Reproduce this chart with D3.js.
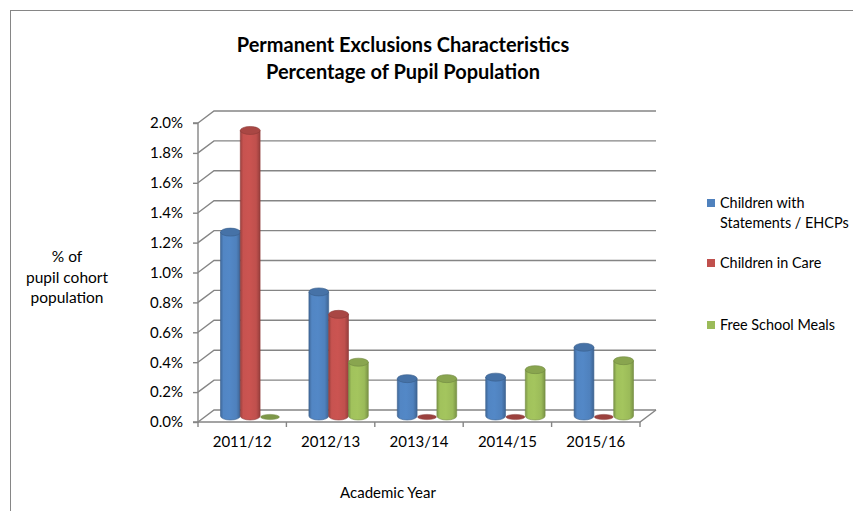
<!DOCTYPE html>
<html>
<head>
<meta charset="utf-8">
<script src="https://cdn.jsdelivr.net/npm/d3@7"></script>
<style>
  body { margin: 0; background: #fff; }
  text { font-family: Lato, "Open Sans", sans-serif; fill: #000; }
</style>
</head>
<body>
<div id="chart"></div>
<script>
// Data
var years = ["2011/12", "2012/13", "2013/14", "2014/15", "2015/16"];
var seriesNames = ["Children with Statements / EHCPs", "Children in Care", "Free School Meals"];
var statements = [0.0123, 0.0083, 0.0025, 0.0026, 0.0046];
var inCare = [0.0191, 0.0068, 0.0000, 0.0000, 0.0000];
var schoolMeals = [0.0000, 0.0036, 0.0025, 0.0031, 0.0037];
var yTicks = [0, 0.002, 0.004, 0.006, 0.008, 0.010, 0.012, 0.014, 0.016, 0.018, 0.020];

var colors = ["#4f81bd", "#c0504d", "#9bbb59"];
var allSeries = [statements, inCare, schoolMeals];

var width = 853;
var height = 511;

//depth of the 3d box, and bar radius
var depthX = 16;
var depthY = -12;
var ry = 4;

var svg = d3
  .select("#chart")
  .append("svg")
  .attr("width", width)
  .attr("height", height);

//chart area border (only top/left visible in the shot)
svg.append("rect")
  .attr("x", 10.5)
  .attr("y", 10.5)
  .attr("width", 900)
  .attr("height", 600)
  .attr("fill", "none")
  .attr("stroke", "#868686")
  .attr("stroke-width", 1);

//gradients for the cylinders
var defs = svg.append("defs");
colors.forEach(function(c, i) {
  var base = d3.color(c);
  var g = defs.append("linearGradient")
    .attr("id", "cyl" + i)
    .attr("x1", "0%").attr("x2", "100%")
    .attr("y1", "0%").attr("y2", "0%");
  g.append("stop").attr("offset", "0%").attr("stop-color", base.darker(0.6));
  g.append("stop").attr("offset", "15%").attr("stop-color", base.brighter(0.1));
  g.append("stop").attr("offset", "45%").attr("stop-color", base.brighter(0.15));
  g.append("stop").attr("offset", "80%").attr("stop-color", base);
  g.append("stop").attr("offset", "100%").attr("stop-color", base.darker(0.7));
});

//scales
var xScale = d3
  .scaleBand()
  .domain(years)
  .range([198, 640]);

var xInner = d3
  .scaleBand()
  .domain(d3.range(3))
  .range([14.5, xScale.bandwidth() - 14.5]);

var yScale = d3
  .scaleLinear()
  .domain([0, 0.02])
  .range([422, 123]);

var x0 = xScale.range()[0];
var x1 = xScale.range()[1];
var gridColor = "#858585";

//back wall gridlines with the side wall diagonals
var grid = svg.append("g").attr("class", "grid");
yTicks.forEach(function(t) {
  var yF = yScale(t);
  grid.append("path")
    .attr("d", "M" + x0 + "," + yF + "L" + (x0 + depthX) + "," + (yF + depthY) +
      "L" + (x1 + depthX) + "," + (yF + depthY))
    .attr("fill", "none")
    .attr("stroke", gridColor)
    .attr("stroke-width", 1.4);
});

//floor
grid.append("path")
  .attr("d", "M" + x0 + "," + yScale(0) + "L" + x1 + "," + yScale(0) +
    "L" + (x1 + depthX) + "," + (yScale(0) + depthY))
  .attr("fill", "none")
  .attr("stroke", gridColor)
  .attr("stroke-width", 1.4);

//front y axis with tick marks
var yAxis = d3.axisLeft(yScale)
  .tickValues(yTicks)
  .tickSize(5)
  .tickFormat(d3.format(".1%"));

svg.append("g")
  .attr("class", "yAxis")
  .attr("transform", "translate(" + x0 + ",0)")
  .call(yAxis)
  .call(function(g) {
    g.selectAll("path,line").attr("stroke", gridColor).attr("stroke-width", 1.4);
    g.select(".domain").attr("d", "M-5," + yScale(0.02) + "H0V" + yScale(0) + "H-5");
    g.selectAll("text")
      .attr("x", -15)
      .attr("font-size", 15)
      .attr("font-family", "Lato, sans-serif");
  });

//x axis along front floor edge
var xAxis = d3.axisBottom(xScale).tickSize(0).tickPadding(14);
svg.append("g")
  .attr("class", "xAxis")
  .attr("transform", "translate(0," + yScale(0) + ")")
  .call(xAxis)
  .call(function(g) {
    g.select(".domain").remove();
    g.selectAll("text")
      .attr("font-size", 15)
      .attr("font-family", "Lato, sans-serif");
  });

//category separator ticks
svg.append("g")
  .selectAll("line")
  .data(years.concat(["end"]))
  .enter()
  .append("line")
  .attr("x1", function(d, i) { return x0 + i * xScale.step(); })
  .attr("x2", function(d, i) { return x0 + i * xScale.step(); })
  .attr("y1", yScale(0))
  .attr("y2", yScale(0) + 5)
  .attr("stroke", gridColor)
  .attr("stroke-width", 1.4);

//cylinder bars, drawn at half depth
var bars = svg.append("g").attr("class", "bars");
years.forEach(function(yr, yi) {
  allSeries.forEach(function(vals, si) {
    var v = vals[yi];
    var rx = xInner.bandwidth() / 2;
    var cx = xScale(yr) + xInner(si) + rx + depthX / 2;
    var yb = yScale(0) + depthY / 2;
    var yt = yScale(v) + depthY / 2;
    var base = d3.color(colors[si]);
    if (yb - yt > 0.5) {
      bars.append("path")
        .attr("d", "M" + (cx - rx) + "," + yt + "L" + (cx - rx) + "," + yb +
          "A" + rx + "," + ry + " 0 0 0 " + (cx + rx) + "," + yb +
          "L" + (cx + rx) + "," + yt + "Z")
        .attr("fill", "url(#cyl" + si + ")")
        .attr("stroke", base.darker(0.8))
        .attr("stroke-width", 0.6);
      bars.append("ellipse")
        .attr("cx", cx)
        .attr("cy", yt)
        .attr("rx", rx)
        .attr("ry", ry)
        .attr("fill", base.darker(0.35))
        .attr("stroke", base.darker(0.9))
        .attr("stroke-width", 0.6);
    } else {
      //zero value: flat disc on the floor
      bars.append("ellipse")
        .attr("cx", cx)
        .attr("cy", yb + 1)
        .attr("rx", rx * 0.95)
        .attr("ry", 2.6)
        .attr("fill", base.darker(0.6))
        .attr("stroke", base.darker(0.9))
        .attr("stroke-width", 0.5);
    }
  });
});

//titles
var title = svg.append("g")
  .attr("font-weight", "bold")
  .attr("font-size", 20)
  .attr("text-anchor", "middle");
title.append("text").attr("x", 403).attr("y", 52).text("Permanent Exclusions Characteristics");
title.append("text").attr("x", 403).attr("y", 79).text("Percentage of Pupil Population");

//y axis label
var yLabel = svg.append("g")
  .attr("font-size", 15.5)
  .attr("text-anchor", "middle");
["% of", "pupil cohort", "population"].forEach(function(s, i) {
  yLabel.append("text").attr("x", 67).attr("y", 262 + i * 20.5).text(s);
});

//x axis label
svg.append("text")
  .attr("x", 388)
  .attr("y", 498)
  .attr("font-size", 15)
  .attr("text-anchor", "middle")
  .text("Academic Year");

//legend
var legendLines = [["Children with", "Statements / EHCPs"], ["Children in Care"], ["Free School Meals"]];
var legendY = [203, 263, 325];
var legend = svg.append("g").attr("class", "legend");
seriesNames.forEach(function(name, i) {
  legend.append("rect")
    .attr("x", 707)
    .attr("y", legendY[i] - 4)
    .attr("width", 8)
    .attr("height", 8)
    .attr("fill", colors[i]);
  legendLines[i].forEach(function(s, j) {
    legend.append("text")
      .attr("x", 720)
      .attr("y", legendY[i] + 5 + j * 20)
      .attr("font-size", 14.4)
      .text(s);
  });
});
</script>
</body>
</html>
